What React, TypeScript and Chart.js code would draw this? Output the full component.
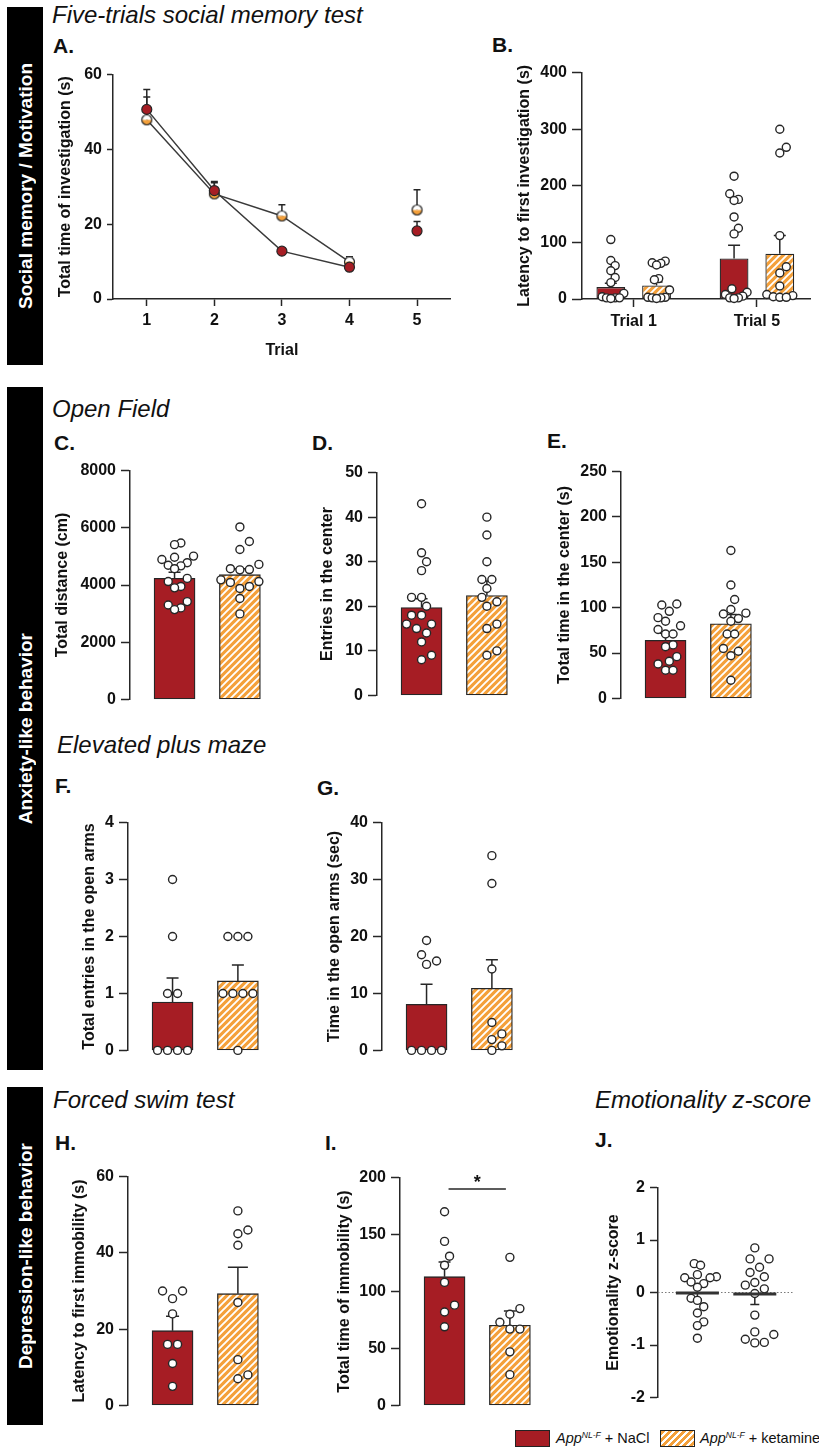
import React, { useEffect, useRef } from 'react';
import { Chart, registerables } from 'chart.js';

Chart.register(...registerables);

const FONT = "'Liberation Sans', Arial, Helvetica, sans-serif";
Chart.defaults.font.family = FONT;
Chart.defaults.color = '#111';

const RED = '#A61D24';
const ORANGE = '#F4A03A';
const INK = '#262626';

// ---------------- DATA ----------------
const genotype = 'App';
const genotypeSup = 'NL-F';
const treatments = ['NaCl', 'ketamine'];

// A. Five-trials social memory test
const trialNumbers = [1, 2, 3, 4, 5];
const trialTickLabels = ['1', '2', '3', '4', '5'];
const investTicks = [0, 20, 40, 60];
const investNaClMean = [50.7, 29.0, 12.8, 8.5, 18.2];
const investNaClSem = [5.3, 2.4, 0.8, 1.0, 2.5];
const investKetMean = [47.9, 28.1, 22.2, 9.9, 23.8];
const investKetSem = [6.1, 3.0, 3.0, 1.4, 5.4];

// B. Latency to first investigation
const latencyCats = ['Trial 1', 'Trial 5'];
const latencyTicks = [0, 100, 200, 300, 400];
const latencyNaClMean = [21, 71.5];
const latencyNaClSem = [7, 23.5];
const latencyKetMean = [24, 80];
const latencyKetSem = [6, 32];
const latencyNaClTrial1 = [105, 68, 59, 50, 38, 29, 10, 4, 2, 2, 2, 1];
const latencyKetTrial1 = [67, 64, 63, 60, 36, 34, 16, 3, 3, 2, 2, 1];
const latencyNaClTrial5 = [217, 186, 176, 174, 145, 125, 115, 18, 12, 8, 5, 2, 2, 1];
const latencyKetTrial5 = [300, 268, 258, 112, 57, 46, 23, 8, 6, 4, 3, 3];

// C. Total distance
const distanceTicks = [0, 2000, 4000, 6000, 8000];
const distanceMean = [4235, 4361];
const distanceSem = [215, 210];
const distanceNaCl = [5470, 5410, 5010, 4970, 4890, 4780, 4690, 4670, 4570, 4230, 4120, 3950, 3900, 3420, 3300, 3200, 3140];
const distanceKet = [6030, 5520, 5240, 4720, 4570, 4540, 4530, 4180, 4120, 4090, 3950, 3880, 3530, 2990];

// D. Entries in the center
const entriesTicks = [0, 10, 20, 30, 40, 50];
const entriesMean = [19.7, 22.4];
const entriesSem = [2.0, 3.3];
const entriesNaCl = [43, 32, 30, 28, 22, 22, 20, 18, 18, 16, 16, 15, 14, 12, 9, 8];
const entriesKet = [40, 36, 30, 26, 26, 24, 22, 21, 20, 16, 15, 10, 9];

// E. Total time in the center
const centerTimeTicks = [0, 50, 100, 150, 200, 250];
const centerTimeMean = [64.1, 82.2];
const centerTimeSem = [7.6, 10.2];
const centerTimeNaCl = [104, 103, 96, 89, 85, 80, 76, 71, 71, 59, 57, 46, 41, 38, 31, 31];
const centerTimeKet = [163, 125, 109, 98, 94, 93, 88, 85, 71, 71, 55, 52, 47, 20];

// F. Total entries in the open arms
const armEntriesTicks = [0, 1, 2, 3, 4];
const armEntriesMean = [0.85, 1.22];
const armEntriesSem = [0.42, 0.28];
const armEntriesNaCl = [3, 2, 1, 1, 0, 0, 0, 0];
const armEntriesKet = [2, 2, 2, 1, 1, 1, 1, 0];

// G. Time in the open arms
const armTimeTicks = [0, 10, 20, 30, 40];
const armTimeMean = [8.1, 10.9];
const armTimeSem = [3.5, 5.0];
const armTimeNaCl = [19.3, 16.8, 15.7, 15.1, 0, 0, 0, 0];
const armTimeKet = [34.2, 29.3, 14.3, 4.9, 2.9, 1.9, 0.8, 0];

// H. Latency to first immobility
const immLatencyTicks = [0, 20, 40, 60];
const immLatencyMean = [19.6, 29.3];
const immLatencySem = [3.8, 6.9];
const immLatencyNaCl = [30, 30, 28, 24, 16, 16, 11, 5];
const immLatencyKet = [51, 46, 45, 42, 27, 12, 8, 7];

// I. Total time of immobility
const immobilityTicks = [0, 50, 100, 150, 200];
const immobilityMean = [113, 70.4];
const immobilitySem = [13, 12.4];
const immobilityNaCl = [170, 144, 131, 123, 108, 88, 82, 69];
const immobilityKet = [130, 85, 80, 73, 67, 67, 47, 27];
const immobilitySigLevel = 190;
const immobilitySigText = '*';

// J. Emotionality z-score
const zTicks = [-2, -1, 0, 1, 2];
const zMean = [-0.01, -0.03];
const zSem = [0.12, 0.2];
const zNaCl = [0.55, 0.52, 0.34, 0.3, 0.28, 0.28, 0.2, 0.17, 0.1, -0.11, -0.15, -0.27, -0.39, -0.56, -0.63, -0.87];
const zKet = [0.85, 0.64, 0.64, 0.48, 0.38, 0.3, 0.19, 0.14, 0.07, -0.02, -0.43, -0.75, -0.8, -0.89, -0.95, -0.96];

// ---------------- helpers ----------------
function makeHatch(): CanvasPattern {
  const s = 7;
  const c = document.createElement('canvas');
  c.width = s;
  c.height = s;
  const g = c.getContext('2d')!;
  g.fillStyle = ORANGE;
  g.fillRect(0, 0, s, s);
  g.strokeStyle = '#ffffff';
  g.lineWidth = 1.9;
  g.beginPath();
  g.moveTo(-1, s + 1);
  g.lineTo(s + 1, -1);
  g.moveTo(-1, 1);
  g.lineTo(1, -1);
  g.moveTo(s - 1, s + 1);
  g.lineTo(s + 1, s - 1);
  g.stroke();
  return g.createPattern(c, 'repeat')!;
}

function makeHalfDot(r = 5): HTMLCanvasElement {
  const s = 13;
  const c = document.createElement('canvas');
  c.width = s;
  c.height = s;
  const g = c.getContext('2d')!;
  const m = s / 2;
  g.fillStyle = '#ffffff';
  g.beginPath();
  g.arc(m, m, r, Math.PI, 2 * Math.PI);
  g.fill();
  g.fillStyle = ORANGE;
  g.beginPath();
  g.arc(m, m, r, 0, Math.PI);
  g.fill();
  g.strokeStyle = INK;
  g.lineWidth = 1.2;
  g.beginPath();
  g.arc(m, m, r, 0, 2 * Math.PI);
  g.stroke();
  return c;
}

function swarmOffsets(ys: number[], minDist: number, step: number): number[] {
  const n = ys.length;
  const order = ys.map((_, i) => i).sort((a, b) => ys[b] - ys[a]);
  const xs: number[] = new Array(n).fill(0);
  const placed: number[] = [];
  const d2 = minDist * minDist - 0.01;
  for (const i of order) {
    const y = ys[i];
    const near = placed.filter((j) => Math.abs(ys[j] - y) < minDist);
    const bias = near.reduce((s, j) => s + xs[j], 0);
    const ok = (x: number) => near.every((j) => (xs[j] - x) ** 2 + (ys[j] - y) ** 2 >= d2);
    let chosen = 0;
    for (let k = 0; k < 60; k++) {
      const c = k === 0 ? [0] : bias > 0 ? [-k * step, k * step] : [k * step, -k * step];
      const f = c.find(ok);
      if (f !== undefined) {
        chosen = f;
        break;
      }
    }
    xs[i] = chosen;
    placed.push(i);
  }
  const done: boolean[] = new Array(n).fill(false);
  for (const i of order) {
    if (done[i]) continue;
    const row = order.filter((j) => !done[j] && Math.abs(ys[j] - ys[i]) < 1.5);
    row.forEach((j) => (done[j] = true));
    if (row.length < 2) continue;
    const m = row.reduce((s, j) => s + xs[j], 0) / row.length;
    if (Math.abs(m) < 0.01) continue;
    const others = order.filter((j) => !row.includes(j));
    const fits = row.every((j) => others.every((k) => (xs[k] - (xs[j] - m)) ** 2 + (ys[k] - ys[j]) ** 2 >= d2));
    if (fits) row.forEach((j) => (xs[j] -= m));
  }
  return xs;
}

function applySwarm(chart: any, minDist: number, step: number, maxHalf: number) {
  const xs = chart.scales.x;
  const ys = chart.scales.y;
  let any = false;
  chart.data.datasets.forEach((ds: any) => {
    if (!ds.swarm) return;
    any = true;
    const el: any = chart.getDatasetMeta(ds.swarm.dataset).data[ds.swarm.index];
    const cx = el.x;
    const py = ds.swarm.values.map((v: number) => ys.getPixelForValue(v));
    let off = swarmOffsets(py, minDist, step);
    const widest = Math.max(...off.map((o) => Math.abs(o)));
    if (widest > maxHalf) off = off.map((o) => (o * maxHalf) / widest);
    ds.data = ds.swarm.values.map((v: number, i: number) => ({ x: xs.getValueForPixel(cx + off[i]), y: v }));
  });
  if (any) chart.update('none');
}

const errorBarPlugin = {
  id: 'errorBars',
  beforeDatasetsDraw(chart: any) {
    const ctx = chart.ctx;
    chart.data.datasets.forEach((ds: any, di: number) => {
      if (!ds.errors) return;
      const meta = chart.getDatasetMeta(di);
      const yScale = chart.scales[meta.yAxisID];
      const dir = ds.errorDirection ?? 1;
      meta.data.forEach((el: any, i: number) => {
        const e = ds.errors[i];
        if (!e) return;
        const v = ds.data[i].y;
        const y0 = yScale.getPixelForValue(v);
        const y1 = yScale.getPixelForValue(v + dir * e);
        const cap = Array.isArray(ds.errorCap) ? ds.errorCap[i] : ds.errorCap ?? 12;
        ctx.save();
        ctx.strokeStyle = INK;
        ctx.lineWidth = 1.5;
        ctx.beginPath();
        ctx.moveTo(el.x, y0);
        ctx.lineTo(el.x, y1);
        ctx.moveTo(el.x - cap / 2, y1);
        ctx.lineTo(el.x + cap / 2, y1);
        ctx.stroke();
        ctx.restore();
      });
    });
  },
};

const sigPlugin = {
  id: 'sig',
  afterDatasetsDraw(chart: any, _a: any, opts: any) {
    if (!opts || opts.value === undefined) return;
    const ctx = chart.ctx;
    const bars = chart.getDatasetMeta(0).data;
    const y = chart.scales.y.getPixelForValue(opts.value);
    const x1 = bars[0].x + opts.inset;
    const x2 = bars[1].x - opts.inset;
    ctx.save();
    ctx.strokeStyle = INK;
    ctx.lineWidth = 1.5;
    ctx.beginPath();
    ctx.moveTo(x1, y);
    ctx.lineTo(x2, y);
    ctx.stroke();
    ctx.fillStyle = '#111';
    ctx.font = `bold 18px ${FONT}`;
    ctx.textAlign = 'center';
    ctx.textBaseline = 'alphabetic';
    ctx.fillText(opts.text, (x1 + x2) / 2, y - 1);
    ctx.restore();
  },
};

const zeroLinePlugin = {
  id: 'zeroLine',
  beforeDatasetsDraw(chart: any, _a: any, opts: any) {
    if (!opts || opts.value === undefined) return;
    const ctx = chart.ctx;
    const y = chart.scales.y.getPixelForValue(opts.value);
    ctx.save();
    ctx.strokeStyle = '#7a7a7a';
    ctx.lineWidth = 1;
    ctx.setLineDash([1.5, 2]);
    ctx.beginPath();
    ctx.moveTo(chart.chartArea.left, y);
    ctx.lineTo(chart.chartArea.right, y);
    ctx.stroke();
    ctx.restore();
  },
};

const TICK_FONT = { size: 16, weight: 'bold' };

function yAxis(ticksArr: number[], title: string, width: number, tickLen: number) {
  return {
    type: 'linear',
    min: ticksArr[0],
    max: ticksArr[ticksArr.length - 1],
    afterBuildTicks: (ax: any) => {
      ax.ticks = ticksArr.map((v) => ({ value: v }));
    },
    afterFit: (ax: any) => {
      ax.width = width;
    },
    ticks: { font: TICK_FONT, color: '#111', padding: 5, callback: (v: number) => String(v) },
    grid: { drawOnChartArea: false, drawTicks: true, tickLength: tickLen, tickColor: INK, tickWidth: 1.5 },
    border: { display: true, color: INK, width: 1.5 },
    title: { display: true, text: title, font: TICK_FONT, color: '#111', padding: 0 },
  };
}

function baseOptions(padTop: number, padRight: number, padBottom: number) {
  return {
    responsive: false,
    maintainAspectRatio: false,
    animation: false,
    events: [],
    layout: { padding: { top: padTop, right: padRight, bottom: padBottom, left: 0 } },
  };
}

function dots(values: number[], ds: number, idx: number, x0: number) {
  return {
    type: 'scatter',
    data: values.map((v) => ({ x: x0, y: v })),
    swarm: { dataset: ds, index: idx, values },
    pointRadius: 4,
    pointHoverRadius: 4,
    pointBorderWidth: 1.4,
    pointBackgroundColor: '#ffffff',
    pointBorderColor: INK,
    showLine: false,
    clip: false,
    order: 0,
  };
}

type Box = { left: number; top: number; width: number; height: number };
type Spec = { box: Box; build: () => any; swarm?: [number, number, number] };

// ---------------- panel specs ----------------
function panelA(): Spec {
  const box = { left: 56, top: 60, width: 401, height: 300 };
  return {
    box,
    build: () => {
      const half = makeHalfDot();
      const line = (mean: number[], sem: number[], extra: any) => ({
        data: trialNumbers.map((t, i) => ({ x: t, y: mean[i] })),
        errors: sem,
        errorCap: 7,
        borderColor: '#3a3a3a',
        borderWidth: 1.5,
        pointRadius: 5,
        pointHoverRadius: 5,
        pointBorderColor: INK,
        pointBorderWidth: 1.2,
        clip: false,
        segment: { borderColor: (c: any) => (c.p1DataIndex === 4 ? 'rgba(0,0,0,0)' : '#3a3a3a') },
        ...extra,
      });
      return {
        type: 'line',
        data: {
          datasets: [
            line(investNaClMean, investNaClSem, { label: treatments[0], pointBackgroundColor: RED, order: 0 }),
            line(investKetMean, investKetSem, { label: treatments[1], pointStyle: half, order: 1 }),
          ],
        },
        options: {
          ...baseOptions(12, 4, 0),
          plugins: { legend: { display: false }, tooltip: { enabled: false } },
          scales: {
            x: {
              type: 'linear',
              offset: false,
              min: 0.5,
              max: 5.5,
              afterBuildTicks: (ax: any) => {
                ax.ticks = trialNumbers.map((v) => ({ value: v }));
              },
              afterFit: (ax: any) => {
                ax.height = 61;
              },
              ticks: {
                font: TICK_FONT,
                color: '#111',
                padding: 5,
                callback: (v: number) => trialTickLabels[trialNumbers.indexOf(v)] ?? '',
              },
              grid: { offset: false, drawOnChartArea: false, tickLength: 7, tickColor: INK, tickWidth: 1.5 },
              border: { display: true, color: INK, width: 1.5 },
              title: { display: true, text: 'Trial', font: TICK_FONT, color: '#111', padding: 0 },
            },
            y: yAxis(investTicks, 'Total time of investigation (s)', 113 - box.left, 6),
          },
        },
        plugins: [errorBarPlugin],
      };
    },
  };
}

function panelB(): Spec {
  const box = { left: 515, top: 58, width: 301, height: 277 };
  const g1 = 634;
  const g2 = 758;
  const axisX = 582;
  const right = 812;
  const unit = g2 - g1;
  return {
    box,
    swarm: [10, 5, 13],
    build: () => {
      const hatch = makeHatch();
      const bar = (mean: number[], sem: number[], color: any, label: string) => ({
        type: 'bar',
        label,
        data: latencyCats.map((_, i) => ({ x: i + 1, y: mean[i] })),
        backgroundColor: color,
        borderColor: INK,
        borderWidth: 1.3,
        borderSkipped: false,
        categoryPercentage: 0.742,
        barPercentage: 0.63,
        errors: sem,
        errorCap: 12,
        order: 2,
      });
      return {
        type: 'bar',
        data: {
          datasets: [
            bar(latencyNaClMean, latencyNaClSem, RED, treatments[0]),
            bar(latencyKetMean, latencyKetSem, hatch, treatments[1]),
            dots(latencyNaClTrial1, 0, 0, 1),
            dots(latencyKetTrial1, 1, 0, 1),
            dots(latencyNaClTrial5, 0, 1, 2),
            dots(latencyKetTrial5, 1, 1, 2),
          ],
        },
        options: {
          ...baseOptions(12, 4, 0),
          plugins: { legend: { display: false }, tooltip: { enabled: false } },
          scales: {
            x: {
              type: 'linear',
              offset: false,
              min: 1 - (g1 - axisX) / unit,
              max: 2 + (right - g2) / unit,
              afterBuildTicks: (ax: any) => {
                ax.ticks = latencyCats.map((_, i) => ({ value: i + 1 }));
              },
              afterFit: (ax: any) => {
                ax.height = 36;
              },
              ticks: { font: TICK_FONT, color: '#111', padding: 5, callback: (v: number) => latencyCats[v - 1] ?? '' },
              grid: { offset: false, drawOnChartArea: false, tickLength: 8, tickColor: INK, tickWidth: 1.5 },
              border: { display: true, color: INK, width: 1.5 },
            },
            y: yAxis(latencyTicks, 'Latency to first investigation (s)', axisX - box.left, 10),
          },
        },
        plugins: [errorBarPlugin],
      };
    },
  };
}

type TwoBarLayout = { axisX: number; yTop: number; yBot: number; titleX: number };

function twoBarPanel(o: {
  layout: TwoBarLayout;
  yTitle: string;
  ticks: number[];
  mean: number[];
  sem: number[];
  nacl: number[];
  ket: number[];
  caps?: number[];
  sig?: any;
  spread?: number;
}): Spec {
  const { axisX, yTop, yBot, titleX } = o.layout;
  const left = Math.round(titleX - 9.6);
  const top = yTop - 14;
  const right = axisX + 144;
  const box = { left, top, width: right - left, height: yBot + 12 - top };
  return {
    box,
    swarm: [10, 5, o.spread ?? 17],
    build: () => {
      const hatch = makeHatch();
      return {
        type: 'bar',
        data: {
          datasets: [
            {
              type: 'bar',
              data: [
                { x: 1, y: o.mean[0] },
                { x: 2, y: o.mean[1] },
              ],
              backgroundColor: [RED, hatch],
              borderColor: INK,
              borderWidth: 1.3,
              borderSkipped: false,
              barThickness: 41,
              errors: o.sem,
              errorCap: o.caps ?? 12,
              order: 2,
            },
            dots(o.nacl, 0, 0, 1),
            dots(o.ket, 0, 1, 2),
          ],
        },
        options: {
          ...baseOptions(14, 4, 12),
          plugins: { legend: { display: false }, tooltip: { enabled: false }, sig: o.sig ?? {} },
          scales: {
            x: {
              type: 'linear',
              display: false,
              offset: false,
              grid: { offset: false },
              min: 1 - 45 / 66,
              max: 1 + 95 / 66,
              afterBuildTicks: (ax: any) => {
                ax.ticks = [{ value: 1 }, { value: 2 }];
              },
            },
            y: yAxis(o.ticks, o.yTitle, axisX - left, 9),
          },
        },
        plugins: o.sig ? [errorBarPlugin, sigPlugin] : [errorBarPlugin],
      };
    },
  };
}

function panelJ(): Spec {
  const axisX = 658;
  const left = Math.round(613.5 - 9.6);
  const top = 1177 - 14;
  const right = 815;
  const box = { left, top, width: right + 2 - left, height: 1410 + 12 - top };
  const unit = 67;
  return {
    box,
    swarm: [11, 6, 19],
    build: () => ({
      type: 'scatter',
      data: {
        datasets: [
          {
            data: zMean.map((m, i) => ({ x: i + 1, y: m })),
            pointStyle: 'line',
            pointRadius: 21.5,
            pointHoverRadius: 21.5,
            pointBorderWidth: 3,
            pointBorderColor: '#333',
            errors: zSem,
            errorDirection: -1,
            errorCap: 9,
            clip: false,
            order: 0,
          },
          dots(zNaCl, 0, 0, 1),
          dots(zKet, 0, 1, 2),
        ],
      },
      options: {
        ...baseOptions(14, 2, 12),
        plugins: { legend: { display: false }, tooltip: { enabled: false }, zeroLine: { value: 0 } },
        scales: {
          x: {
            type: 'linear',
            display: false,
            offset: false,
            min: 1 - 46 / unit,
            max: 2 + (right - (axisX + 113)) / unit,
          },
          y: yAxis(zTicks, 'Emotionality z-score', axisX - left, 8),
        },
      },
      plugins: [zeroLinePlugin, errorBarPlugin],
    }),
  };
}

// ---------------- components ----------------
function ChartCanvas({ spec }: { spec: Spec }) {
  const ref = useRef<HTMLCanvasElement>(null);
  useEffect(() => {
    const canvas = ref.current;
    if (!canvas) return;
    const chart = new Chart(canvas, spec.build());
    if (spec.swarm) applySwarm(chart, spec.swarm[0], spec.swarm[1], spec.swarm[2]);
    return () => chart.destroy();
  }, []);
  const b = spec.box;
  return (
    <canvas
      ref={ref}
      width={b.width}
      height={b.height}
      style={{ position: 'absolute', left: b.left, top: b.top, width: b.width, height: b.height }}
    />
  );
}

function Txt(props: { x: number; base: number; size: number; bold?: boolean; italic?: boolean; children: any }) {
  return (
    <div
      style={{
        position: 'absolute',
        left: props.x,
        top: props.base - 0.8465 * props.size,
        fontSize: props.size,
        lineHeight: 1,
        fontWeight: props.bold ? 'bold' : 'normal',
        fontStyle: props.italic ? 'italic' : 'normal',
        whiteSpace: 'nowrap',
        color: '#111',
      }}
    >
      {props.children}
    </div>
  );
}

function SideBar({ top, height, label }: { top: number; height: number; label: string }) {
  return (
    <div
      style={{
        position: 'absolute',
        left: 7,
        top,
        width: 36,
        height,
        background: '#000',
        display: 'flex',
        alignItems: 'center',
        justifyContent: 'center',
      }}
    >
      <div
        style={{
          writingMode: 'vertical-rl',
          transform: 'rotate(180deg)',
          color: '#fff',
          fontWeight: 'bold',
          fontSize: 19,
          whiteSpace: 'nowrap',
          lineHeight: 1,
        }}
      >
        {label}
      </div>
    </div>
  );
}

function LegendLabel({ x, treatment }: { x: number; treatment: string }) {
  return (
    <div
      style={{
        position: 'absolute',
        left: x,
        top: 1443 - 0.8465 * 14.5,
        fontSize: 14.5,
        lineHeight: 1,
        whiteSpace: 'nowrap',
        color: '#111',
      }}
    >
      <i>{genotype}</i>
      <i style={{ fontSize: 8.5, position: 'relative', top: -5 }}>{genotypeSup}</i> + {treatment}
    </div>
  );
}

const specs: Spec[] = [
  panelA(),
  panelB(),
  twoBarPanel({
    layout: { axisX: 130, yTop: 470, yBot: 702, titleX: 62.5 },
    yTitle: 'Total distance (cm)',
    ticks: distanceTicks,
    mean: distanceMean,
    sem: distanceSem,
    nacl: distanceNaCl,
    ket: distanceKet,
    spread: 19,
  }),
  twoBarPanel({
    layout: { axisX: 377, yTop: 472, yBot: 698, titleX: 328 },
    yTitle: 'Entries in the center',
    ticks: entriesTicks,
    mean: entriesMean,
    sem: entriesSem,
    nacl: entriesNaCl,
    ket: entriesKet,
    spread: 15,
  }),
  twoBarPanel({
    layout: { axisX: 621, yTop: 471, yBot: 701, titleX: 564.5 },
    yTitle: 'Total time in the center (s)',
    ticks: centerTimeTicks,
    mean: centerTimeMean,
    sem: centerTimeSem,
    nacl: centerTimeNaCl,
    ket: centerTimeKet,
    spread: 15,
  }),
  twoBarPanel({
    layout: { axisX: 128, yTop: 822, yBot: 1053, titleX: 90 },
    yTitle: 'Total entries in the open arms',
    ticks: armEntriesTicks,
    mean: armEntriesMean,
    sem: armEntriesSem,
    nacl: armEntriesNaCl,
    ket: armEntriesKet,
    spread: 19,
  }),
  twoBarPanel({
    layout: { axisX: 382, yTop: 822, yBot: 1053, titleX: 335 },
    yTitle: 'Time in the open arms (sec)',
    ticks: armTimeTicks,
    mean: armTimeMean,
    sem: armTimeSem,
    nacl: armTimeNaCl,
    ket: armTimeKet,
    spread: 19,
  }),
  twoBarPanel({
    layout: { axisX: 128, yTop: 1176, yBot: 1408, titleX: 80 },
    yTitle: 'Latency to first immobility (s)',
    ticks: immLatencyTicks,
    mean: immLatencyMean,
    sem: immLatencySem,
    nacl: immLatencyNaCl,
    ket: immLatencyKet,
    caps: [13, 20],
  }),
  twoBarPanel({
    layout: { axisX: 400, yTop: 1177, yBot: 1408, titleX: 344.5 },
    yTitle: 'Total time of immobility (s)',
    ticks: immobilityTicks,
    mean: immobilityMean,
    sem: immobilitySem,
    nacl: immobilityNaCl,
    ket: immobilityKet,
    sig: { value: immobilitySigLevel, text: immobilitySigText, inset: 4 },
  }),
  panelJ(),
];

export default function App() {
  return (
    <div
      style={{
        position: 'absolute',
        left: 0,
        top: 0,
        width: 819,
        height: 1452,
        background: '#fff',
        fontFamily: FONT,
        overflow: 'hidden',
      }}
    >
      <SideBar top={7} height={358} label="Social memory / Motivation" />
      <SideBar top={387} height={683} label="Anxiety-like behavior" />
      <SideBar top={1087} height={338} label="Depression-like behavior" />

      <Txt x={52} base={23} size={24} italic>Five-trials social memory test</Txt>
      <Txt x={52} base={417} size={24} italic>Open Field</Txt>
      <Txt x={57} base={753} size={24} italic>Elevated plus maze</Txt>
      <Txt x={53} base={1108} size={24} italic>Forced swim test</Txt>
      <Txt x={595} base={1108} size={24} italic>Emotionality z-score</Txt>

      <Txt x={53} base={53} size={21} bold>A.</Txt>
      <Txt x={492} base={52} size={21} bold>B.</Txt>
      <Txt x={54} base={450} size={21} bold>C.</Txt>
      <Txt x={312} base={450} size={21} bold>D.</Txt>
      <Txt x={547} base={448} size={21} bold>E.</Txt>
      <Txt x={55} base={793} size={21} bold>F.</Txt>
      <Txt x={317} base={795} size={21} bold>G.</Txt>
      <Txt x={55} base={1150} size={21} bold>H.</Txt>
      <Txt x={325} base={1150} size={21} bold>I.</Txt>
      <Txt x={595} base={1147} size={21} bold>J.</Txt>

      {specs.map((s, i) => (
        <ChartCanvas key={i} spec={s} />
      ))}

      <div
        style={{
          position: 'absolute',
          left: 515,
          top: 1430,
          width: 35,
          height: 17,
          background: RED,
          border: '1.3px solid #222',
          boxSizing: 'border-box',
        }}
      />
      <LegendLabel x={556} treatment={treatments[0]} />
      <div
        style={{
          position: 'absolute',
          left: 660,
          top: 1430,
          width: 35,
          height: 17,
          background: `repeating-linear-gradient(135deg, ${ORANGE} 0px, ${ORANGE} 3.2px, #ffffff 3.2px, #ffffff 5px)`,
          border: '1.3px solid #222',
          boxSizing: 'border-box',
        }}
      />
      <LegendLabel x={700} treatment={treatments[1]} />
    </div>
  );
}
